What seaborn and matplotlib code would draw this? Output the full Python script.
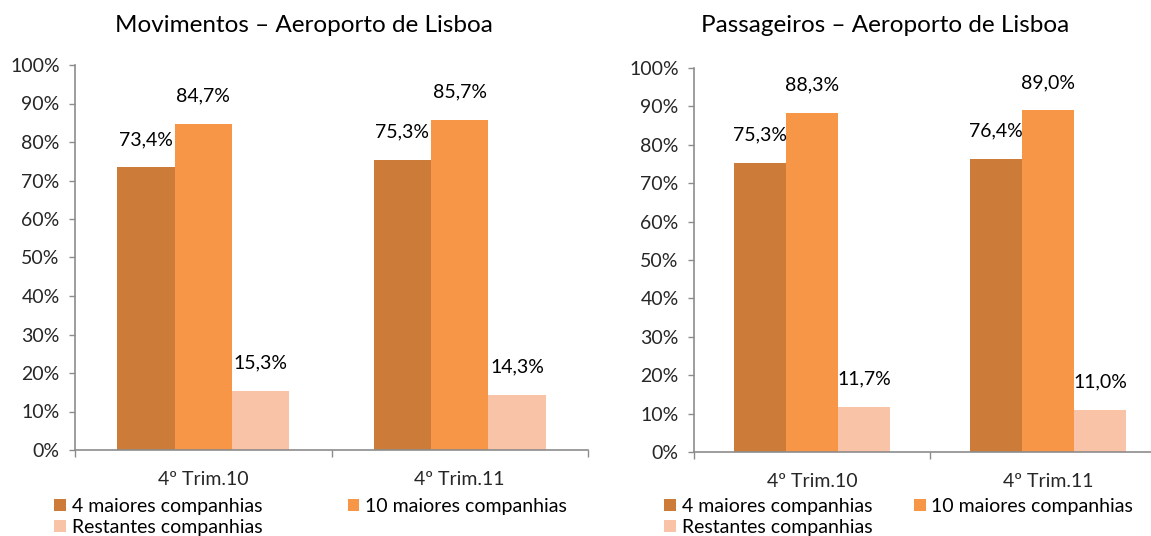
import matplotlib
matplotlib.use("Agg")
import matplotlib.pyplot as plt
from matplotlib.patches import Patch
from matplotlib.ticker import MultipleLocator, FixedLocator
import pandas as pd
import seaborn as sns

# Data
periodos = ["4º Trim.10", "4º Trim.11"]
grupos = ["4 maiores companhias", "10 maiores companhias", "Restantes companhias"]
movimentos = [[73.4, 75.3], [84.7, 85.7], [15.3, 14.3]]
passageiros = [[75.3, 76.4], [88.3, 89.0], [11.7, 11.0]]
titulos = ["Movimentos – Aeroporto de Lisboa", "Passageiros – Aeroporto de Lisboa"]
cores = ["#CD7B38", "#F79646", "#F9C3A7"]

sns.set_theme(style="white")
plt.rcParams["font.family"] = ["Lato", "DejaVu Sans"]
plt.rcParams["text.color"] = "black"
cinza = "#8C8C8C"
fs = 14


def to_frame(valores):
    rows = []
    for g, serie in zip(grupos, valores):
        for p, v in zip(periodos, serie):
            rows.append({"Periodo": p, "Grupo": g, "Valor": v / 100})
    return pd.DataFrame(rows)


def draw_panel(ax, valores, width):
    df = to_frame(valores)
    sns.barplot(data=df, x="Periodo", y="Valor", hue="Grupo", hue_order=grupos,
                palette=cores, width=width, ax=ax, legend=False,
                linewidth=0, saturation=1)
    ax.set_ylim(0, 1)
    ax.set_xlim(-0.5, 1.5)
    ax.yaxis.set_major_locator(MultipleLocator(0.1))
    ax.set_yticklabels([f"{int(round(t * 100))}%" for t in ax.get_yticks()])
    ax.set_xlabel("")
    ax.set_ylabel("")
    # value labels above each bar
    for cont, serie in zip(ax.containers, valores):
        for bar, v in zip(cont, serie):
            ax.annotate(f"{v:.1f}%".replace(".", ","),
                        (bar.get_x() + bar.get_width() / 2, bar.get_height()),
                        xytext=(0, 20), textcoords="offset points",
                        ha="center", va="center", fontsize=fs)
    for s in ["top", "right"]:
        ax.spines[s].set_visible(False)
    for s in ["left", "bottom"]:
        ax.spines[s].set_color(cinza)
        ax.spines[s].set_linewidth(1.2)
    ax.tick_params(axis="y", which="major", left=True, length=4, width=1,
                   color=cinza, labelsize=fs, pad=7)
    ax.tick_params(axis="x", which="major", bottom=False, length=0,
                   labelsize=fs, pad=15)
    ax.xaxis.set_minor_locator(FixedLocator([-0.5, 0.5, 1.5]))
    ax.tick_params(axis="x", which="minor", bottom=True, length=5, width=1,
                   color=cinza)


fig = plt.figure(figsize=(11.51, 5.36), dpi=100)
ax1 = fig.add_axes([75 / 1151, 1 - 450 / 536, 513 / 1151, 385 / 536])
ax2 = fig.add_axes([694 / 1151, 1 - 452 / 536, 472 / 1151, 384 / 536])

draw_panel(ax1, movimentos, 0.67)
draw_panel(ax2, passageiros, 0.66)

fig.text(304 / 1151, 1 - 25 / 536, titulos[0], ha="center", va="center", fontsize=17.5)
fig.text(885 / 1151, 1 - 25 / 536, titulos[1], ha="center", va="center", fontsize=17.5)

handles = [Patch(facecolor=c, edgecolor="none") for c in cores]
order = [0, 2, 1]
for x0, esp in [(54 / 1151, 4.4), (664 / 1151, 2.15)]:
    fig.legend([handles[i] for i in order], [grupos[i] for i in order],
               loc="upper left", bbox_to_anchor=(x0, 1 - 498 / 536), ncol=2,
               frameon=False, fontsize=fs, handlelength=0.6, handleheight=0.6,
               handletextpad=0.3, columnspacing=esp, labelspacing=0.2,
               borderpad=0, borderaxespad=0)

fig.savefig("out.png", dpi=100)
